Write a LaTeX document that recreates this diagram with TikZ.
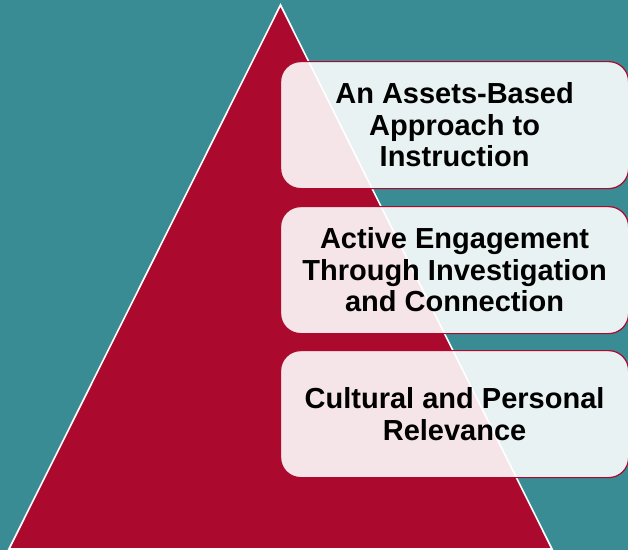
\documentclass[tikz,border=0pt]{standalone}
\usepackage{fontspec}
\setmainfont{Liberation Sans}
\definecolor{teal0}{HTML}{3A8C94}
\definecolor{crim}{HTML}{AB0A2E}
\tikzset{
  tier/.style={draw=crim, line width=1.2pt, fill=white, fill opacity=0.89, text opacity=1,
    rounded corners=20pt, minimum width=348pt, anchor=north west, inner sep=0pt,
    font=\bfseries\fontsize{29}{31.5}\selectfont, align=center, text=black},
}
\begin{document}
\begin{tikzpicture}[x=1pt,y=-1pt]
\fill[teal0] (0,0) rectangle (628,550);
\useasboundingbox (0,0) rectangle (628,550);
\draw[white, fill=crim, line width=1.6pt, line join=miter] (9,549) -- (280.5,5) -- (552,549) -- cycle;
\node[tier, minimum height=127pt] (t1) at (280,61) {An Assets-Based\\Approach to\\Instruction};
\node[tier, minimum height=127pt] (t2) at (280,206) {Active Engagement\\Through Investigation\\and Connection};
\node[tier, minimum height=127pt] (t3) at (280,350) {Cultural and Personal\\Relevance};
\end{tikzpicture}
\end{document}
